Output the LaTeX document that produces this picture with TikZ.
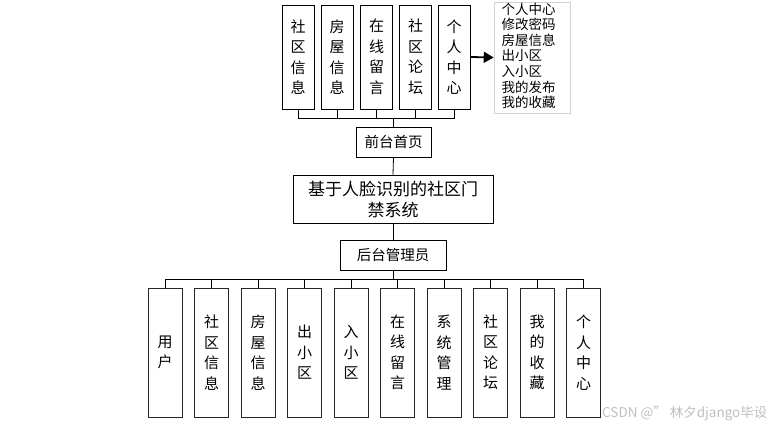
\documentclass[tikz,border=0pt]{standalone}
\usepackage{fontspec}
\setmainfont{Noto Sans CJK SC}
\usetikzlibrary{arrows.meta}
\begin{document}
\begin{tikzpicture}[x=1pt,y=-1pt,
  vbox/.style={draw=black, line width=0.8pt, inner sep=0pt, align=center,
    font=\fontsize{15}{20.5}\selectfont},
  hbox/.style={draw=black, line width=0.8pt, inner sep=0pt, align=center,
    font=\fontsize{14.5}{18}\selectfont},
  conn/.style={draw=black, line width=0.8pt}]
\useasboundingbox (0,0) rectangle (779,427);
% top boxes
\foreach \i/\x/\t in {1/298/{社\\区\\信\\息},2/337/{房\\屋\\信\\息},3/376.5/{在\\线\\留\\言},4/415.5/{社\\区\\论\\坛},5/454/{个\\人\\中\\心}}
  \node[vbox, minimum width=32, minimum height=104] (t\i) at (\x,57) {\t};
\node[hbox, minimum width=75, minimum height=30] (front) at (393.5,142) {前台首页};
\node[draw=black, line width=0.8pt, inner sep=0pt, minimum width=200, minimum height=48,
  text width=196, align=center, font=\fontsize{17}{21}\selectfont] (main) at (393,199)
  {基于人脸识别的社区门\\禁系统};
\node[hbox, minimum width=106, minimum height=30] (admin) at (393,255) {后台管理员};
% list box
\node[draw=gray!35, fill=white, line width=0.6pt, inner sep=0pt, minimum width=76, minimum height=111] (list) at (532,57.5) {};
\node[anchor=north west, inner sep=0pt, align=left, font=\fontsize{13.5}{15.6}\selectfont] (listtxt) at (501.5,2.5)
  {个人中心\\修改密码\\房屋信息\\出小区\\入小区\\我的发布\\我的收藏};
\draw[line width=1.8pt, -{Triangle[length=10,width=11]}] (t5.east) -- (list.west);
% bottom boxes
\foreach \i/\t in {0/{用\\户},1/{社\\区\\信\\息},2/{房\\屋\\信\\息},3/{出\\小\\区},4/{入\\小\\区},5/{在\\线\\留\\言},6/{系\\统\\管\\理},7/{社\\区\\论\\坛},8/{我\\的\\收\\藏},9/{个\\人\\中\\心}}
  \node[vbox, draw=black!85, minimum width=34, minimum height=129] (b\i) at ({165+46.5*\i},352.5) {\t};
% connectors
\foreach \i in {1,...,5}
  \draw[conn] (t\i.south) -- ++(0,9) -| (front.north);
\draw[conn] (front.south) -- (main.north);
\draw[conn] (main.south) -- (admin.north);
\foreach \i in {0,...,9}
  \draw[conn] (admin.south) -- ++(0,9) -| (b\i.north);
% watermark
\node[anchor=west, inner sep=0pt, text=gray!50, font=\fontsize{13.5}{16}\selectfont] (wm) at (602,413) {CSDN @” 林夕django毕设};
\end{tikzpicture}
\end{document}
